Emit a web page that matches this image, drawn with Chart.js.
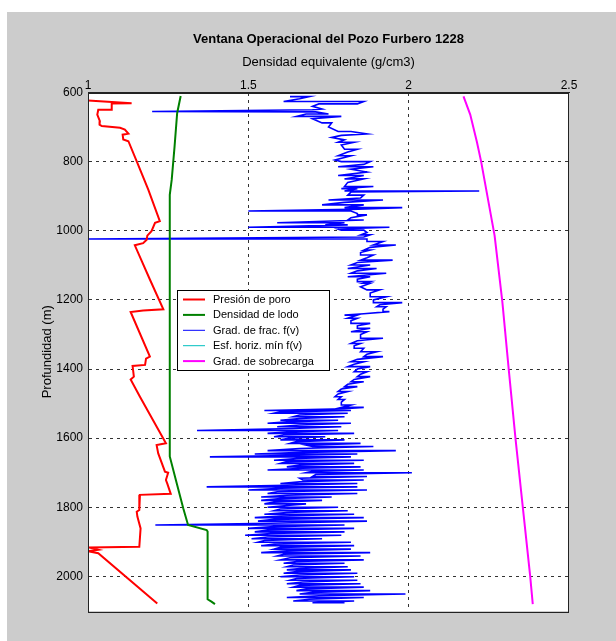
<!DOCTYPE html>
<html lang="es">
<head>
<meta charset="UTF-8">
<title>Ventana Operacional del Pozo Furbero 1228</title>
<script src="https://cdn.jsdelivr.net/npm/chart.js"></script>
<style>
  body { margin: 0; background: #ffffff; }
  .figura {
    position: absolute;
    left: 7px;
    top: 12px;
    width: 609px;
    height: 629px;
    background: #cccccc;
  }
  canvas { display: block; }
</style>
</head>
<body>
<div class="figura"><canvas id="ventana" width="609" height="629"></canvas></div>

<script>
// ticks de los ejes
const xTicks = [1, 1.5, 2, 2.5];
const yTicks = [600, 800, 1000, 1200, 1400, 1600, 1800, 2000];

const series = ['Presión de poro', 'Densidad de lodo', 'Grad. de frac. f(v)', 'Esf. horiz. mín f(v)', 'Grad. de sobrecarga'];

// [profundidad (m), densidad (g/cm3)]
const poroLog = [
  [623, 1.000], [631, 1.136], [632, 1.074], [650, 1.074], [650, 1.032], [664, 1.029], [683, 1.037],
  [693, 1.036], [697, 1.043], [702, 1.100], [707, 1.115], [719, 1.126], [722, 1.108], [736, 1.110],
  [741, 1.126], [799, 1.152], [881, 1.188], [972, 1.224], [977, 1.209], [1001, 1.198], [1014, 1.185],
  [1026, 1.183], [1036, 1.172], [1042, 1.146], [1141, 1.193], [1227, 1.235], [1231, 1.172], [1235, 1.133],
  [1364, 1.193], [1370, 1.181], [1388, 1.178], [1391, 1.139], [1422, 1.143], [1430, 1.133], [1480, 1.162],
  [1615, 1.243], [1620, 1.214], [1644, 1.219], [1697, 1.240], [1700, 1.250], [1721, 1.243], [1731, 1.247],
  [1761, 1.258], [1764, 1.162], [1808, 1.160], [1813, 1.152], [1827, 1.154], [1861, 1.164], [1914, 1.160],
  [1916, 1.001], [1923, 1.032], [1927, 1.000], [1933, 1.032], [2078, 1.216]
];

const lodoLog = [
  [610, 1.289], [660, 1.278], [756, 1.270], [853, 1.261], [896, 1.255], [1653, 1.255], [1721, 1.274],
  [1803, 1.297], [1851, 1.312], [1866, 1.370], [1870, 1.373], [2066, 1.373], [2073, 1.385], [2080, 1.396]
];

const fracLog = [
  [612, 1.63], [612, 1.69], [618, 1.66], [626, 1.61], [626, 1.86], [633, 1.84], [633, 1.72], [640, 1.70],
  [648, 1.73], [650, 1.70], [655, 1.20], [656, 1.71], [662, 1.75], [662, 1.68], [669, 1.65], [669, 1.79],
  [676, 1.70], [688, 1.73], [688, 1.76], [700, 1.75], [713, 1.78], [713, 1.82], [720, 1.87], [724, 1.79],
  [730, 1.76], [737, 1.80], [744, 1.78], [744, 1.83], [752, 1.79], [764, 1.80], [764, 1.84], [772, 1.81],
  [783, 1.78], [783, 1.82], [795, 1.77], [800, 1.79], [800, 1.88], [808, 1.86], [815, 1.78], [815, 1.89],
  [822, 1.82], [830, 1.87], [840, 1.78], [840, 1.86], [850, 1.80], [850, 1.86], [860, 1.81], [872, 1.80],
  [872, 1.89], [878, 1.79], [878, 1.84], [885, 1.80], [885, 2.22], [888, 1.82], [897, 1.81], [897, 1.86],
  [905, 1.85], [911, 1.75], [911, 1.92], [918, 1.80], [925, 1.73], [925, 1.86], [933, 1.80], [933, 1.98],
  [938, 1.82], [943, 1.50], [943, 1.82], [950, 1.84], [954, 1.84], [954, 1.87], [962, 1.82], [969, 1.81],
  [969, 1.86], [977, 1.59], [977, 1.80], [983, 1.74], [983, 1.81], [988, 1.60], [990, 1.50], [990, 1.94],
  [995, 1.78], [998, 1.79], [998, 1.86], [1005, 1.87], [1012, 1.85], [1012, 1.88], [1018, 1.86], [1024, 1.00],
  [1024, 1.87], [1031, 1.87], [1031, 1.92], [1041, 1.89], [1041, 1.96], [1048, 1.88], [1056, 1.86], [1056, 1.88],
  [1063, 1.85], [1070, 1.85], [1070, 1.89], [1078, 1.87], [1085, 1.85], [1085, 1.95], [1092, 1.84], [1099, 1.82],
  [1099, 1.88], [1109, 1.81], [1109, 1.90], [1116, 1.84], [1123, 1.82], [1123, 1.93], [1133, 1.81], [1133, 1.88],
  [1140, 1.84], [1147, 1.84], [1147, 1.88], [1152, 1.86], [1152, 1.88], [1162, 1.85], [1171, 1.87], [1171, 1.91],
  [1180, 1.88], [1191, 1.88], [1191, 1.93], [1200, 1.89], [1208, 1.89], [1208, 1.98], [1214, 1.91], [1220, 1.90],
  [1220, 1.93], [1227, 1.92], [1234, 1.92], [1234, 1.94], [1240, 1.86], [1244, 1.80], [1244, 1.84], [1253, 1.81],
  [1253, 1.84], [1260, 1.82], [1268, 1.82], [1268, 1.88], [1275, 1.84], [1282, 1.84], [1282, 1.88], [1292, 1.82],
  [1292, 1.87], [1300, 1.85], [1311, 1.85], [1311, 1.92], [1318, 1.84], [1326, 1.82], [1326, 1.85], [1333, 1.83],
  [1340, 1.83], [1340, 1.86], [1350, 1.85], [1350, 1.90], [1357, 1.87], [1364, 1.86], [1364, 1.92], [1372, 1.84],
  [1379, 1.82], [1379, 1.86], [1386, 1.83], [1393, 1.81], [1393, 1.88], [1400, 1.84], [1408, 1.83], [1408, 1.87],
  [1415, 1.85], [1422, 1.84], [1422, 1.88], [1430, 1.83], [1437, 1.82], [1437, 1.86], [1444, 1.81], [1451, 1.80],
  [1451, 1.84], [1458, 1.79], [1465, 1.78], [1465, 1.81], [1472, 1.78], [1480, 1.77], [1480, 1.79], [1488, 1.78],
  [1488, 1.80], [1496, 1.79], [1504, 1.79], [1504, 1.82], [1511, 1.79], [1511, 1.86], [1515, 1.80], [1520, 1.55],
  [1520, 1.82], [1524, 1.60], [1528, 1.58], [1528, 1.81], [1533, 1.66], [1538, 1.64], [1538, 1.80], [1543, 1.66],
  [1548, 1.60], [1548, 1.78], [1553, 1.62], [1557, 1.56], [1557, 1.82], [1562, 1.66], [1567, 1.59], [1567, 1.79],
  [1572, 1.64], [1578, 1.34], [1578, 1.78], [1582, 1.62], [1586, 1.56], [1586, 1.83], [1591, 1.61], [1596, 1.58],
  [1596, 1.74], [1600, 1.63], [1605, 1.60], [1605, 1.80], [1610, 1.65], [1615, 1.63], [1615, 1.85], [1620, 1.68],
  [1624, 1.70], [1624, 1.89], [1630, 1.66], [1636, 1.56], [1636, 1.96], [1641, 1.67], [1646, 1.52], [1646, 1.84],
  [1650, 1.62], [1654, 1.38], [1654, 1.82], [1659, 1.65], [1664, 1.58], [1664, 1.86], [1668, 1.62], [1673, 1.60],
  [1673, 1.83], [1678, 1.66], [1683, 1.62], [1683, 1.85], [1687, 1.67], [1692, 1.56], [1692, 1.86], [1696, 1.70],
  [1700, 1.68], [1700, 2.01], [1705, 1.71], [1711, 1.70], [1711, 1.87], [1716, 1.66], [1721, 1.67], [1721, 1.86],
  [1726, 1.66], [1731, 1.60], [1731, 1.84], [1736, 1.62], [1741, 1.37], [1741, 1.84], [1745, 1.60], [1750, 1.50],
  [1750, 1.87], [1755, 1.59], [1760, 1.56], [1760, 1.84], [1765, 1.62], [1770, 1.54], [1770, 1.76], [1775, 1.60],
  [1780, 1.54], [1780, 1.73], [1785, 1.58], [1790, 1.55], [1790, 1.68], [1795, 1.62], [1800, 1.56], [1800, 1.78],
  [1805, 1.60], [1810, 1.58], [1810, 1.81], [1815, 1.62], [1820, 1.55], [1820, 1.83], [1825, 1.60], [1830, 1.52],
  [1830, 1.86], [1835, 1.58], [1840, 1.53], [1840, 1.87], [1846, 1.57], [1851, 1.21], [1851, 1.80], [1856, 1.58],
  [1861, 1.50], [1861, 1.83], [1866, 1.56], [1871, 1.52], [1871, 1.80], [1876, 1.57], [1881, 1.49], [1881, 1.79],
  [1886, 1.56], [1891, 1.51], [1891, 1.73], [1896, 1.55], [1901, 1.53], [1901, 1.82], [1906, 1.58], [1911, 1.54],
  [1911, 1.83], [1916, 1.60], [1921, 1.58], [1921, 1.82], [1926, 1.62], [1931, 1.54], [1931, 1.88], [1936, 1.61],
  [1941, 1.59], [1941, 1.85], [1946, 1.63], [1952, 1.60], [1952, 1.86], [1957, 1.65], [1962, 1.61], [1962, 1.80],
  [1967, 1.64], [1972, 1.62], [1972, 1.81], [1977, 1.66], [1981, 1.62], [1981, 1.82], [1986, 1.65], [1991, 1.61],
  [1991, 1.84], [1996, 1.66], [2001, 1.60], [2001, 1.83], [2006, 1.65], [2011, 1.63], [2011, 1.84], [2016, 1.67],
  [2021, 1.62], [2021, 1.85], [2026, 1.66], [2031, 1.64], [2031, 1.86], [2036, 1.68], [2041, 1.65], [2041, 1.88],
  [2046, 1.70], [2051, 1.66], [2051, 1.99], [2056, 1.72], [2061, 1.62], [2061, 1.86], [2066, 1.69], [2071, 1.64],
  [2071, 1.83], [2076, 1.70], [2076, 1.80]
];

// no se ve en la figura, solo en la leyenda
const esfHorizLog = [];

const sobreLog = [
  [611, 2.171], [664, 2.192], [744, 2.213], [800, 2.226], [1014, 2.268], [1204, 2.292], [1400, 2.312],
  [1600, 2.333], [1800, 2.356], [2000, 2.379], [2080, 2.387]
];

function aPuntos(log) {
  return log.map(p => ({ x: p[1], y: p[0] }));
}

Chart.defaults.font.family = 'Arial, "Liberation Sans", Helvetica, sans-serif';
Chart.defaults.color = '#000';

// fondo blanco y marco del area de ejes
const marco = {
  id: 'marco',
  beforeDraw(chart) {
    const a = chart.chartArea;
    const ctx = chart.ctx;
    ctx.save();
    ctx.fillStyle = '#ffffff';
    ctx.fillRect(a.left, a.top, a.right - a.left, a.bottom - a.top);
    ctx.restore();
  },
  afterDatasetsDraw(chart) {
    const a = chart.chartArea;
    const ctx = chart.ctx;
    ctx.save();
    ctx.strokeStyle = '#222';
    ctx.lineWidth = 1;
    ctx.strokeRect(Math.round(a.left) + 0.5, Math.round(a.top) + 0.5,
      Math.round(a.right - a.left) - 1, Math.round(a.bottom - a.top));
    ctx.restore();
  }
};

// leyenda dentro del grafico, como en matlab
const leyenda = {
  id: 'leyenda',
  afterDraw(chart) {
    const a = chart.chartArea;
    const ctx = chart.ctx;
    const x0 = Math.round(a.left + 89);
    const y0 = Math.round(a.top + 197);
    ctx.save();
    ctx.fillStyle = '#ffffff';
    ctx.fillRect(x0, y0, 152, 80);
    ctx.strokeStyle = '#000';
    ctx.lineWidth = 1;
    ctx.strokeRect(x0 + 0.5, y0 + 0.5, 152, 80);
    ctx.font = '11px Arial, "Liberation Sans", sans-serif';
    ctx.textBaseline = 'middle';
    chart.data.datasets.forEach((ds, i) => {
      const y = y0 + 9.5 + i * 15.4;
      ctx.strokeStyle = ds.borderColor;
      ctx.lineWidth = ds.borderWidth >= 2 ? 2 : 1;
      ctx.beginPath();
      ctx.moveTo(x0 + 6, y);
      ctx.lineTo(x0 + 28, y);
      ctx.stroke();
      ctx.fillStyle = '#000';
      ctx.fillText(ds.label, x0 + 36, y + 0.5);
    });
    ctx.restore();
  }
};

function colorGrid(bordes) {
  return function(ctx) {
    if (ctx.tick && bordes.includes(ctx.tick.value)) return 'rgba(0,0,0,0)';
    return '#333';
  };
}

new Chart(document.getElementById('ventana'), {
  type: 'scatter',
  data: {
    datasets: [
      { label: series[0], data: aPuntos(poroLog), borderColor: '#ff0000', borderWidth: 2 },
      { label: series[1], data: aPuntos(lodoLog), borderColor: '#008000', borderWidth: 2 },
      { label: series[2], data: aPuntos(fracLog), borderColor: '#0000ff', borderWidth: 1.6 },
      { label: series[3], data: aPuntos(esfHorizLog), borderColor: '#00bfbf', borderWidth: 1 },
      { label: series[4], data: aPuntos(sobreLog), borderColor: '#ff00ff', borderWidth: 2 }
    ].map(ds => Object.assign(ds, { showLine: true, pointRadius: 0, pointHoverRadius: 0, fill: false }))
  },
  options: {
    responsive: false,
    animation: false,
    events: [],
    layout: { padding: { left: 0, top: 0, right: 47, bottom: 30 } },
    scales: {
      x: {
        type: 'linear',
        position: 'top',
        min: 1,
        max: 2.5,
        afterBuildTicks: s => { s.ticks = xTicks.map(v => ({ value: v })); },
        afterFit: s => { s.height = 40.5; },
        ticks: { autoSkip: false, maxRotation: 0, padding: 0, font: { size: 12 }, callback: v => String(v) },
        grid: { drawTicks: false, color: colorGrid([1, 2.5]), lineWidth: 1 },
        border: { display: true, color: '#222', dash: [3, 4] },
        title: {
          display: true,
          text: 'Densidad equivalente (g/cm3)',
          font: { size: 13 },
          padding: { top: 3, bottom: 0 }
        }
      },
      y: {
        type: 'linear',
        position: 'left',
        reverse: true,
        min: 600,
        max: 2100,
        afterBuildTicks: s => { s.ticks = yTicks.map(v => ({ value: v })); },
        afterFit: s => { s.width = 81; },
        ticks: { autoSkip: false, padding: 5, font: { size: 12 }, callback: v => String(v) },
        grid: { drawTicks: false, color: colorGrid([600]), lineWidth: 1 },
        border: { display: true, color: '#222', dash: [3, 4] },
        title: {
          display: true,
          text: 'Profundidad (m)',
          font: { size: 13 },
          padding: { top: 33, bottom: 0 }
        }
      }
    },
    plugins: {
      legend: { display: false },
      tooltip: { enabled: false },
      title: {
        display: true,
        fullSize: false,
        text: 'Ventana Operacional del Pozo Furbero 1228',
        font: { size: 13, weight: 'bold' },
        padding: { top: 20, bottom: 4.4 }
      }
    }
  },
  plugins: [marco, leyenda]
});
</script>
</body>
</html>
